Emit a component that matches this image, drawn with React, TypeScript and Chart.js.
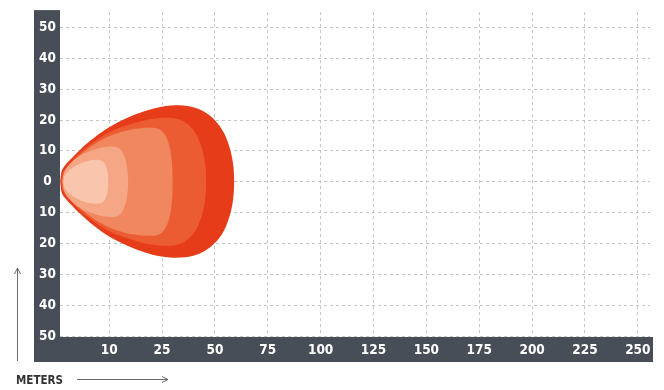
import React, { useEffect, useRef } from 'react';
import { Chart, registerables } from 'chart.js';

Chart.register(...registerables);

// X axis: one grid step per labelled distance (the original grid is evenly spaced)
const xTickPositions = [1, 2, 3, 4, 5, 6, 7, 8, 9, 10, 11];
const xTickLabels = ['10', '25', '50', '75', '100', '125', '150', '175', '200', '225', '250'];

// Y axis: lateral spread in meters
const yTickValues = [-50, -40, -30, -20, -10, 0, 10, 20, 30, 40, 50];
const yTickLabels = ['50', '40', '30', '20', '10', '0', '10', '20', '30', '40', '50'];

// Beam contours [x grid position, lateral meters], outermost (dimmest) to innermost (brightest)
const zone1Upper = [[0.074, 0], [0.1, 3.4], [0.16, 5.2], [0.263, 7.1], [0.452, 10.4], [0.641, 13.3], [0.924, 16.9], [1.265, 20.1], [1.586, 22.4], [1.907, 24.0], [2.247, 24.8], [2.626, 24.0], [2.909, 21.4], [3.136, 16.9], [3.268, 11.7], [3.344, 5.8], [3.363, 0]];
const zone1Lower = [[0.074, 0], [0.1, -3.4], [0.16, -5.2], [0.263, -7.1], [0.452, -10.4], [0.641, -13.3], [0.924, -16.9], [1.265, -20.1], [1.586, -22.4], [1.907, -24.0], [2.247, -24.6], [2.626, -23.8], [2.909, -21.2], [3.136, -16.9], [3.268, -11.7], [3.344, -5.8], [3.363, 0]];

const zone2Upper = [[0.093, 0], [0.12, 2.8], [0.2, 4.6], [0.357, 7.8], [0.641, 12.0], [1.019, 16.2], [1.491, 19.1], [1.964, 20.7], [2.342, 20.1], [2.588, 16.9], [2.739, 11.7], [2.815, 5.8], [2.834, 0]];
const zone2Lower = [[0.093, 0], [0.12, -2.8], [0.2, -4.6], [0.357, -7.8], [0.641, -12.0], [1.019, -16.2], [1.491, -19.1], [1.964, -20.7], [2.342, -20.1], [2.588, -16.9], [2.739, -11.7], [2.815, -5.8], [2.834, 0]];

const zone3Upper = [[0.112, 0], [0.149, 2.3], [0.263, 5.5], [0.452, 8.7], [0.735, 12.3], [1.019, 14.9], [1.397, 16.9], [1.775, 17.5], [1.964, 16.9], [2.096, 13.9], [2.172, 8.7], [2.2, 0]];
const zone3Lower = [[0.112, 0], [0.149, -2.3], [0.263, -5.5], [0.452, -8.7], [0.735, -12.3], [1.019, -14.9], [1.397, -16.9], [1.775, -17.5], [1.964, -16.9], [2.096, -13.9], [2.172, -8.7], [2.2, 0]];

const zone4Upper = [[0.121, 0], [0.14, 2.6], [0.225, 5.2], [0.414, 8.1], [0.641, 10.0], [0.924, 11.3], [1.17, 11.0], [1.284, 8.4], [1.34, 4.5], [1.359, 0]];
const zone4Lower = [[0.121, 0], [0.14, -2.6], [0.225, -5.2], [0.414, -8.1], [0.641, -10.0], [0.924, -11.3], [1.17, -11.0], [1.284, -8.4], [1.34, -4.5], [1.359, 0]];

const zone5Upper = [[0.13, 0], [0.168, 2.3], [0.301, 4.5], [0.49, 6.2], [0.735, 7.1], [0.887, 6.5], [0.962, 3.9], [0.981, 0]];
const zone5Lower = [[0.13, 0], [0.168, -2.3], [0.301, -4.5], [0.49, -6.2], [0.735, -7.1], [0.887, -6.5], [0.962, -3.9], [0.981, 0]];

const zoneColors = ['#e63c1a', '#ec5c33', '#f0875f', '#f5a685', '#f9c6ad'];

const BAR_COLOR = '#474e57';
const TICK_FONT = { family: '"DejaVu Sans Condensed", "Liberation Sans Narrow", "DejaVu Sans", sans-serif', size: 13.5, weight: 'bold' as const };

function closedLoop(upper: number[][], lower: number[][]) {
  const lowerRev = lower.slice().reverse().slice(1);
  return [...upper, ...lowerRev].map(([x, y]) => ({ x, y }));
}

const framePlugin = {
  id: 'frame',
  beforeDraw(chart: any) {
    const { ctx, chartArea: a } = chart;
    ctx.save();
    ctx.fillStyle = '#ffffff';
    ctx.fillRect(0, 0, chart.width, chart.height);
    ctx.fillStyle = BAR_COLOR;
    ctx.fillRect(a.left - 26, a.top - 2, 26, a.bottom - a.top + 28);
    ctx.fillRect(a.left - 26, a.bottom + 1, a.right + 3 - (a.left - 26), 25);
    ctx.restore();
  },
  afterDraw(chart: any) {
    const { ctx } = chart;
    ctx.save();
    ctx.strokeStyle = '#6a6a6a';
    ctx.lineWidth = 1;
    // vertical arrow
    ctx.beginPath();
    ctx.moveTo(17.5, 361);
    ctx.lineTo(17.5, 268);
    ctx.moveTo(14.5, 274);
    ctx.lineTo(17.5, 268);
    ctx.lineTo(20.5, 274);
    ctx.stroke();
    // horizontal arrow
    ctx.beginPath();
    ctx.moveTo(77, 379.5);
    ctx.lineTo(168, 379.5);
    ctx.moveTo(162, 376.5);
    ctx.lineTo(168, 379.5);
    ctx.lineTo(162, 382.5);
    ctx.stroke();
    ctx.fillStyle = '#333333';
    ctx.font = 'bold 13px "DejaVu Sans Condensed", "Liberation Sans Narrow", "DejaVu Sans", sans-serif';
    ctx.textBaseline = 'alphabetic';
    ctx.textAlign = 'left';
    ctx.fillText('METERS', 16, 383.5, 47);
    ctx.restore();
  },
};

export default function App() {
  const canvasRef = useRef<HTMLCanvasElement | null>(null);

  useEffect(() => {
    const canvas = canvasRef.current;
    if (!canvas) return;
    const zones = [
      [zone5Upper, zone5Lower, zoneColors[4]],
      [zone4Upper, zone4Lower, zoneColors[3]],
      [zone3Upper, zone3Lower, zoneColors[2]],
      [zone2Upper, zone2Lower, zoneColors[1]],
      [zone1Upper, zone1Lower, zoneColors[0]],
    ] as [number[][], number[][], string][];

    const chart = new Chart(canvas, {
      type: 'line',
      data: {
        datasets: zones.map(([up, low, color]) => ({
          data: closedLoop(up, low),
          backgroundColor: color,
          borderColor: color,
          borderWidth: 0,
          pointRadius: 0,
          fill: 'shape',
          tension: 0.35,
        })),
      },
      options: {
        responsive: false,
        animation: false,
        events: [],
        layout: { padding: { left: 34, top: 12, right: 14, bottom: 28 } },
        plugins: { legend: { display: false }, tooltip: { enabled: false } },
        scales: {
          x: {
            type: 'linear',
            min: 0.07,
            max: 11.23,
            border: { display: false, dash: [3, 3] },
            grid: { color: '#c6c6c6', lineWidth: 1, drawTicks: false },
            afterBuildTicks: (scale: any) => {
              scale.ticks = xTickPositions.map((v) => ({ value: v }));
            },
            afterFit: (scale: any) => {
              scale.height = 26;
            },
            ticks: {
              color: '#ffffff',
              font: TICK_FONT,
              padding: 6,
              maxRotation: 0,
              autoSkip: false,
              callback: (_v: any, i: number) => xTickLabels[i],
            },
          },
          y: {
            type: 'linear',
            min: -50,
            max: 55,
            border: { display: false, dash: [3, 3] },
            grid: { color: '#c6c6c6', lineWidth: 1, drawTicks: false },
            afterBuildTicks: (scale: any) => {
              scale.ticks = yTickValues.map((v) => ({ value: v }));
            },
            afterFit: (scale: any) => {
              scale.width = 26;
            },
            ticks: {
              color: '#ffffff',
              font: TICK_FONT,
              padding: 4,
              crossAlign: 'center',
              autoSkip: false,
              callback: (_v: any, i: number) => yTickLabels[i],
            },
          },
        },
      },
      plugins: [framePlugin],
    } as any);

    return () => chart.destroy();
  }, []);

  return (
    <div style={{ position: 'fixed', left: 0, top: 0, width: 664, height: 390, background: '#fff' }}>
      <canvas ref={canvasRef} width={664} height={390} style={{ display: 'block' }} />
    </div>
  );
}
